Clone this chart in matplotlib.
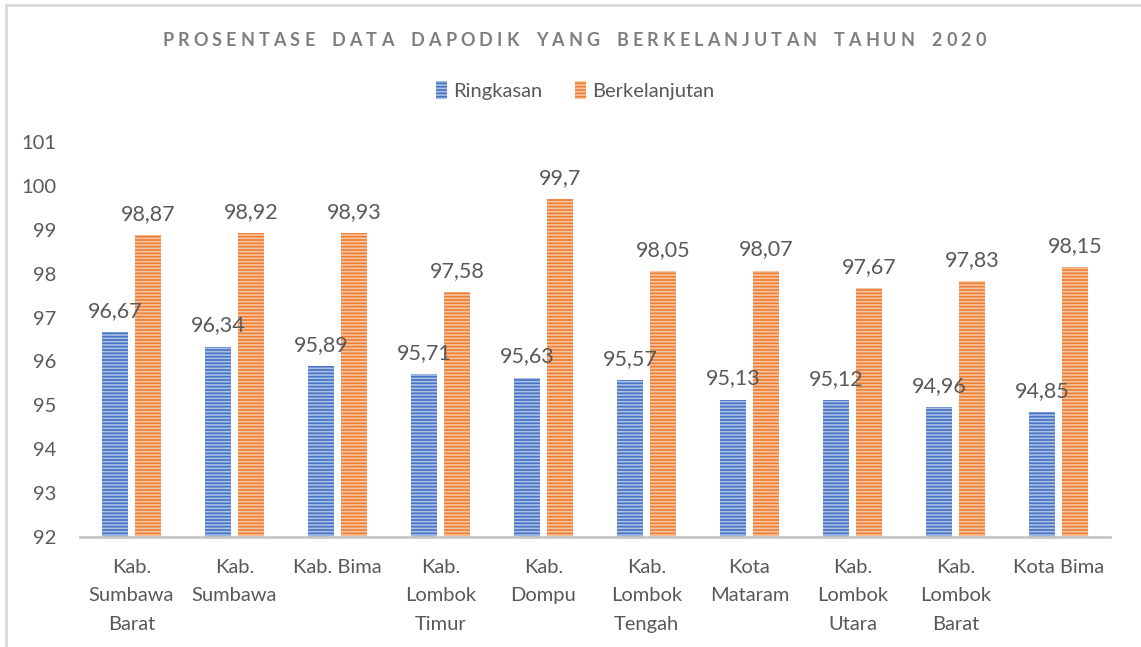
import matplotlib
matplotlib.use("Agg")
import matplotlib.pyplot as plt
import numpy as np
from matplotlib.patches import Patch
from matplotlib.lines import Line2D

categories = ["Kab.\nSumbawa\nBarat", "Kab.\nSumbawa", "Kab. Bima", "Kab.\nLombok\nTimur",
              "Kab.\nDompu", "Kab.\nLombok\nTengah", "Kota\nMataram", "Kab.\nLombok\nUtara",
              "Kab.\nLombok\nBarat", "Kota Bima"]
ringkasan = [96.67, 96.34, 95.89, 95.71, 95.63, 95.57, 95.13, 95.12, 94.96, 94.85]
berkelanjutan = [98.87, 98.92, 98.93, 97.58, 99.70, 98.05, 98.07, 97.67, 97.83, 98.15]
series_names = ["Ringkasan", "Berkelanjutan"]
yticks = [92, 93, 94, 95, 96, 97, 98, 99, 100, 101]
title = "PROSENTASE DATA DAPODIK YANG BERKELANJUTAN TAHUN 2020"

BLUE = "#4472C4"
ORANGE = "#ED7D31"
TXT = "#595959"

plt.rcParams["font.family"] = ["Lato", "DejaVu Sans"]
plt.rcParams["hatch.linewidth"] = 1.2

fig = plt.figure(figsize=(11.41, 6.47), dpi=100)
ax = fig.add_axes([0.0701, 0.170, 0.9027, 0.6105])

x = np.arange(len(categories))
w = 0.25
off = 0.16
hatch_ec = (1, 1, 1, 0.55)
ax.bar(x - off, ringkasan, w, color=BLUE, edgecolor=hatch_ec, linewidth=0, hatch="-----")
ax.bar(x + off, berkelanjutan, w, color=ORANGE, edgecolor=hatch_ec, linewidth=0, hatch="-----")

def fmt(v):
    s = ("%.2f" % v).rstrip("0").rstrip(".")
    return s.replace(".", ",")

for xi, v in zip(x - off, ringkasan):
    ax.annotate(fmt(v), (xi, v), xytext=(0, 8), textcoords="offset points",
                ha="center", va="bottom", fontsize=15.5, color=TXT)
for xi, v in zip(x + off, berkelanjutan):
    ax.annotate(fmt(v), (xi, v), xytext=(0, 8), textcoords="offset points",
                ha="center", va="bottom", fontsize=15.5, color=TXT)

ax.set_ylim(92, 101)
ax.set_xlim(-0.5, len(categories) - 0.5)
ax.set_yticks(yticks)
ax.set_yticklabels([str(t) for t in yticks], fontsize=14.5, color=TXT)
ax.set_xticks(x)
ax.set_xticklabels(categories, fontsize=14.5, color=TXT, linespacing=1.8, va="top")
ax.tick_params(axis="both", length=0)
ax.tick_params(axis="x", pad=16)
ax.tick_params(axis="y", pad=17)
for s in ["top", "right", "left"]:
    ax.spines[s].set_visible(False)
ax.spines["bottom"].set_color("#C8C8C8")
ax.spines["bottom"].set_linewidth(2)

# letter-spaced title, drawn character by character
renderer = fig.canvas.get_renderer()
tprops = dict(fontsize=13, fontweight="bold", color="#7F7F7F", va="center", ha="left")
spacing_px = 4.1
space_px = 9.0
widths = []
for ch in title:
    if ch == " ":
        widths.append(space_px)
    else:
        t = fig.text(0, 0, ch, **tprops)
        widths.append(t.get_window_extent(renderer).width)
        t.remove()
total = sum(widths) + spacing_px * (len(title) - 1)
cx = 574.0
xpos = cx - total / 2
ypix = 647 - 40
for ch, wd in zip(title, widths):
    if ch != " ":
        fig.text(xpos / 1141, ypix / 647, ch, **tprops)
    xpos += wd + spacing_px

handles = [Patch(facecolor=BLUE, edgecolor=hatch_ec, linewidth=0, hatch="-----"),
           Patch(facecolor=ORANGE, edgecolor=hatch_ec, linewidth=0, hatch="-----")]
fig.legend(handles, series_names, loc="center", bbox_to_anchor=(0.504, 0.860), ncol=2,
           frameon=False, fontsize=14.5, labelcolor=TXT, handlelength=0.55, handleheight=1.0,
           handletextpad=0.3, columnspacing=1.6)

# outer chart border (top and left)
fig.add_artist(Line2D([0.0055, 0.0055], [0, 0.992], transform=fig.transFigure, color="#D9D9D9", lw=2))
fig.add_artist(Line2D([0.0055, 1.0], [0.992, 0.992], transform=fig.transFigure, color="#D9D9D9", lw=2))

fig.savefig("out.png", dpi=100)
